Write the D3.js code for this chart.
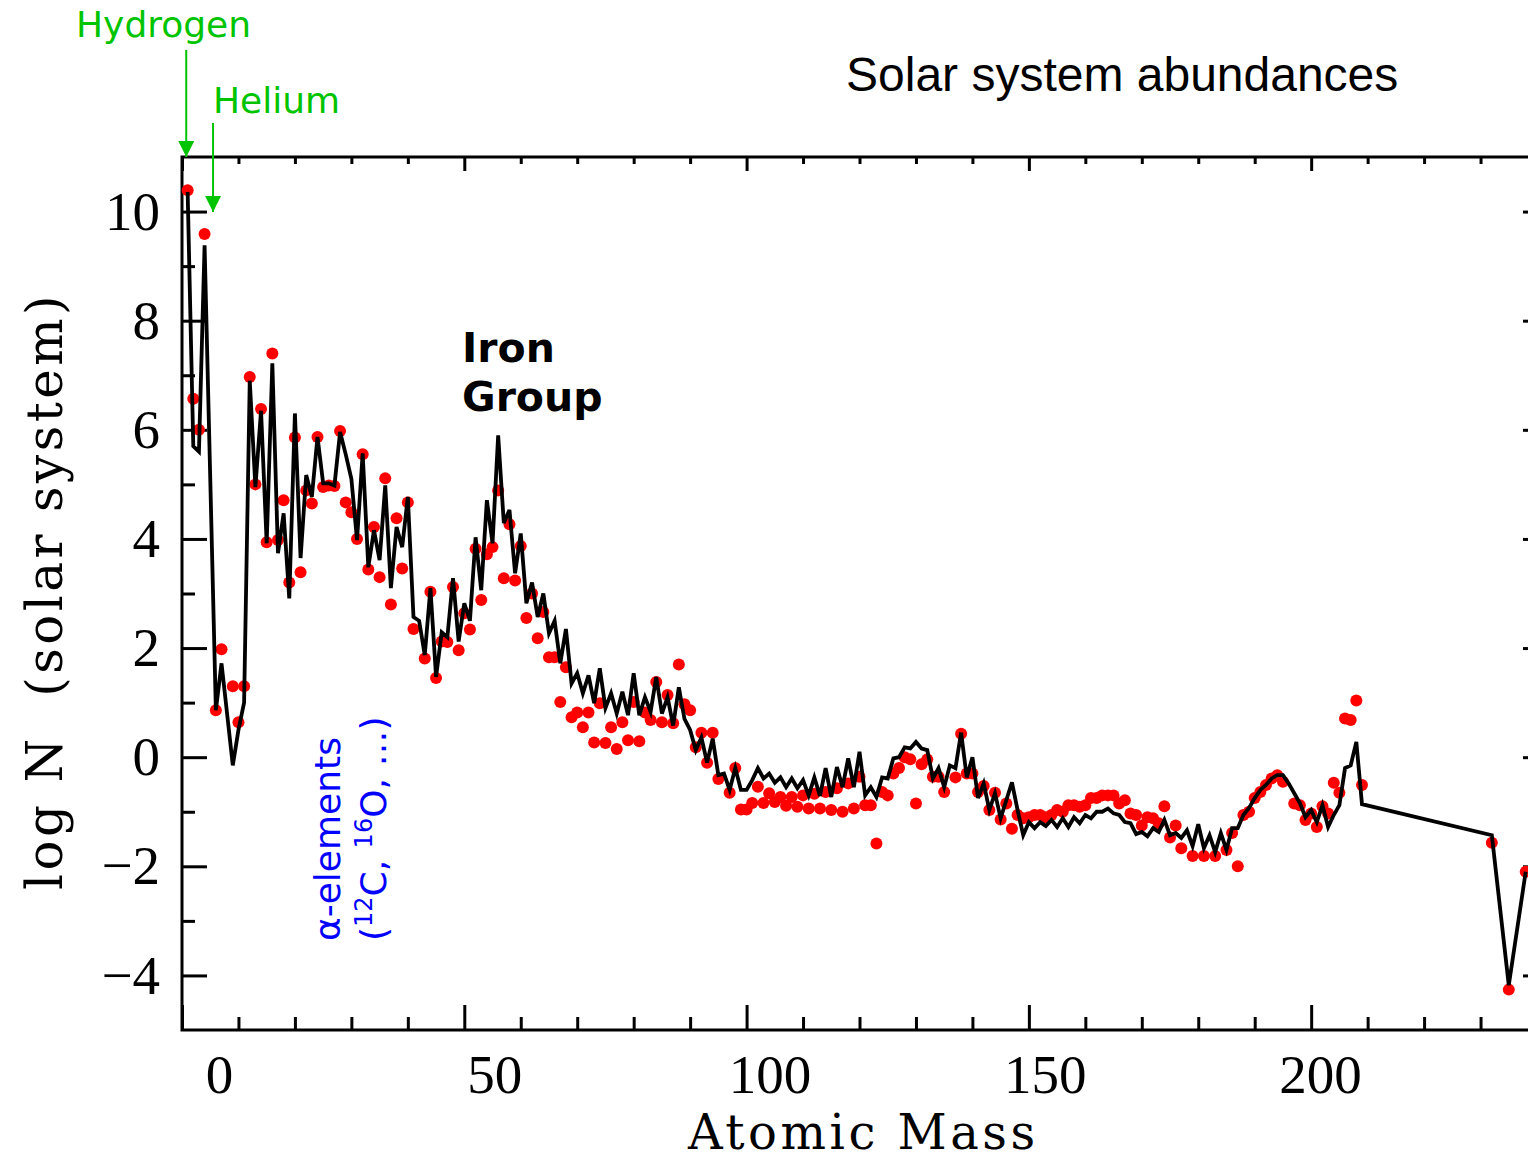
<!DOCTYPE html>
<html>
<head>
<meta charset="utf-8">
<script src="https://cdn.jsdelivr.net/npm/d3@7"></script>
<style>
  html, body { margin: 0; padding: 0; background: #fff; }
  svg { display: block; }
</style>
</head>
<body>
<svg id="chart" width="1528" height="1162"></svg>
<script>
// black curve: [mass number, log N]
var lineData = [
  [1,10.36],[2,5.7],[3,5.6],[4,9.38],[6,0.86],[7,1.72],[9,-0.15],[10,0.5],[11,1.0],
  [12,6.9],[13,4.95],[14,6.35],[15,3.92],[16,7.22],[17,3.74],[18,4.47],[19,2.91],[20,6.3],
  [21,3.65],[22,5.17],[23,4.77],[24,5.87],[25,5.02],[26,5.02],[27,4.98],[28,5.96],[29,5.55],
  [30,5.1],[31,3.98],[32,5.57],[33,3.48],[34,4.16],[35,3.61],[36,4.98],[37,3.1],[38,4.22],
  [39,3.85],[40,4.77],[41,2.57],[42,2.5],[43,1.87],[44,3.1],[45,1.47],[46,2.29],[47,2.2],
  [48,3.28],[49,2.12],[50,2.82],[51,2.5],[52,4.03],[53,3.06],[54,4.71],[55,3.92],[56,5.9],
  [57,4.29],[58,4.53],[59,3.37],[60,4.1],[61,2.82],[62,3.2],[63,2.57],[64,3.0],[65,2.27],
  [66,2.5],[67,1.72],[68,2.35],[69,1.35],[70,1.54],[71,1.17],[72,1.5],[73,0.99],[74,1.63],
  [75,0.9],[76,1.17],[77,0.8],[78,1.2],[79,0.77],[80,1.54],[81,0.77],[82,1.1],[83,0.83],
  [84,1.47],[85,0.8],[86,1.1],[87,0.58],[88,1.28],[89,0.7],[90,0.5],[91,0.13],[92,0.36],
  [93,-0.1],[94,0.34],[95,-0.33],[96,-0.3],[97,-0.6],[98,-0.2],[99,-0.6],[100,-0.6],
  [101,-0.42],[102,-0.2],[103,-0.39],[104,-0.3],[105,-0.47],[106,-0.37],[107,-0.55],
  [108,-0.39],[109,-0.57],[110,-0.42],[111,-0.7],[112,-0.37],[113,-0.71],[114,-0.2],
  [115,-0.73],[116,-0.18],[117,-0.55],[118,-0.02],[119,-0.55],[120,0.1],[121,-0.7],
  [122,-0.55],[123,-0.73],[124,-0.37],[125,-0.39],[126,-0.02],[127,0.0],[128,0.18],
  [129,0.16],[130,0.28],[131,0.16],[132,0.13],[133,-0.39],[134,-0.2],[135,-0.55],
  [136,-0.15],[137,-0.2],[138,0.45],[139,-0.37],[140,0.0],[141,-0.75],[142,-0.48],
  [143,-0.97],[144,-0.66],[145,-1.12],[146,-0.79],[147,-0.46],[148,-0.97],[149,-1.43],
  [150,-1.19],[151,-1.3],[152,-1.19],[153,-1.26],[154,-1.15],[155,-1.28],[156,-1.12],
  [157,-1.28],[158,-1.1],[159,-1.21],[160,-1.06],[161,-1.12],[162,-1.0],[163,-1.0],
  [164,-0.94],[165,-1.03],[166,-1.06],[167,-1.19],[168,-1.21],[169,-1.41],[170,-1.37],
  [171,-1.45],[172,-1.3],[173,-1.37],[174,-1.15],[175,-1.43],[176,-1.39],[177,-1.48],
  [178,-1.34],[179,-1.63],[180,-1.23],[181,-1.67],[182,-1.43],[183,-1.74],[184,-1.39],
  [185,-1.7],[186,-1.3],[187,-1.3],[188,-1.06],[189,-0.93],[190,-0.75],[191,-0.6],
  [192,-0.51],[193,-0.39],[194,-0.33],[195,-0.33],[196,-0.48],[197,-0.66],[198,-0.84],
  [199,-1.1],[200,-0.97],[201,-1.19],[202,-0.88],[203,-1.28],[204,-1.06],[205,-0.88],
  [206,-0.2],[207,-0.15],[208,0.28],[209,-0.86],[232,-1.43],[235,-4.18],[238,-2.1]
];

// red points: [mass number, log N]
var pointData = [
  [1,10.39],[2,6.57],[3,6.0],[4,9.59],[6,0.86],[7,1.98],[9,1.3],[10,0.64],[11,1.3],
  [12,6.97],[13,5.0],[14,6.38],[15,3.94],[16,7.4],[17,3.98],[18,4.71],[19,3.2],[20,5.86],
  [21,3.39],[22,4.89],[23,4.65],[24,5.87],[25,4.95],[26,4.98],[27,4.97],[28,5.98],
  [29,4.67],[30,4.49],[31,4.0],[32,5.55],[33,3.44],[34,4.22],[35,3.3],[36,5.11],[37,2.8],
  [38,4.38],[39,3.46],[40,4.67],[41,2.35],[43,1.81],[44,3.03],[45,1.45],[46,2.12],
  [47,2.11],[48,3.12],[49,1.96],[50,2.64],[51,2.34],[52,3.82],[53,2.88],[54,3.72],
  [55,3.85],[56,4.89],[57,3.28],[58,4.27],[59,3.24],[60,3.87],[61,2.55],[62,3.0],
  [63,2.18],[64,2.66],[65,1.83],[66,1.83],[67,1.01],[68,1.65],[69,0.73],[70,0.82],
  [71,0.55],[72,0.82],[73,0.27],[74,0.99],[75,0.26],[76,0.55],[77,0.15],[78,0.64],
  [79,0.31],[80,1.01],[81,0.29],[82,0.82],[83,0.68],[84,1.38],[85,0.64],[86,1.14],
  [87,0.62],[88,1.7],[89,0.97],[90,0.86],[91,0.18],[92,0.45],[93,-0.1],[94,0.45],
  [95,-0.4],[97,-0.65],[98,-0.2],[99,-0.96],[100,-0.96],[101,-0.84],[102,-0.54],
  [103,-0.84],[104,-0.66],[105,-0.82],[106,-0.73],[107,-0.89],[108,-0.73],[109,-0.91],
  [110,-0.7],[111,-0.94],[112,-0.67],[113,-0.94],[114,-0.64],[115,-0.97],[116,-0.57],
  [117,-1.0],[118,-0.48],[119,-0.94],[120,-0.36],[121,-0.88],[122,-0.88],[123,-1.58],
  [124,-0.64],[125,-0.7],[126,-0.3],[127,-0.2],[128,0.0],[129,-0.04],[130,-0.85],
  [131,-0.13],[132,-0.04],[133,-0.36],[134,-0.36],[135,-0.64],[137,-0.37],[138,0.43],
  [139,-0.3],[140,-0.3],[141,-0.64],[142,-0.53],[143,-0.97],[144,-0.65],[145,-1.14],
  [146,-0.85],[147,-1.31],[148,-1.06],[149,-1.12],[150,-1.1],[151,-1.06],[152,-1.06],
  [153,-1.1],[154,-1.06],[155,-0.97],[156,-1.0],[157,-0.88],[158,-0.88],[159,-0.91],
  [160,-0.88],[161,-0.75],[162,-0.75],[163,-0.7],[164,-0.7],[165,-0.7],[166,-0.85],
  [167,-0.79],[168,-1.03],[169,-1.06],[170,-1.25],[171,-1.1],[172,-1.12],[173,-1.21],
  [174,-0.9],[175,-1.47],[176,-1.25],[177,-1.67],[179,-1.81],[181,-1.81],[183,-1.81],
  [185,-1.7],[186,-1.39],[187,-2.0],[188,-1.06],[189,-1.0],[190,-0.75],[191,-0.64],
  [192,-0.51],[193,-0.39],[194,-0.33],[195,-0.45],[197,-0.85],[198,-0.88],[199,-1.15],
  [200,-1.03],[201,-1.28],[202,-0.9],[203,-1.03],[204,-0.47],[205,-0.65],[206,0.71],
  [207,0.68],[208,1.04],[209,-0.51],[232,-1.57],[235,-4.26],[238,-2.1]
];

var xMajorTicks = [0, 50, 100, 150, 200];
var xMinorTicks = [10, 20, 30, 40, 60, 70, 80, 90, 110, 120, 130, 140, 160, 170, 180, 190, 210, 220, 230];
var yMajorTicks = [-4, -2, 0, 2, 4, 6, 8, 10];
var yMinorTicks = [-3, -1, 1, 3, 5, 7, 9];

var svg = d3.select("#chart");
svg.append("rect").attr("width", 1528).attr("height", 1162).attr("fill", "#fff");

var x = d3.scaleLinear().domain([0, 240]).range([182, 1537]);
var y = d3.scaleLinear().domain([-5, 11]).range([1030, 157]);
// tick labels in the source sit a bit right of their tick marks
var xLab = d3.scaleLinear().domain([0, 200]).range([219, 1320]);

function tickAxis(axis, tx, ty, vals, size) {
  var g = svg.append("g")
    .attr("transform", "translate(" + tx + "," + ty + ")")
    .call(axis.tickValues(vals).tickSize(size).tickFormat(""));
  g.select(".domain").remove();
  g.selectAll("line").attr("stroke", "#000").attr("stroke-width", 3);
  return g;
}

// left / bottom (long inward ticks), top / right (short)
tickAxis(d3.axisRight(y), 182, 0, yMajorTicks, 25);
tickAxis(d3.axisRight(y), 182, 0, yMinorTicks, 13);
tickAxis(d3.axisTop(x), 0, 1030, xMajorTicks, 25);
tickAxis(d3.axisTop(x), 0, 1030, xMinorTicks, 13);
tickAxis(d3.axisBottom(x), 0, 157, xMajorTicks, 14);
tickAxis(d3.axisBottom(x), 0, 157, xMinorTicks, 7);
tickAxis(d3.axisLeft(y), 1537, 0, yMajorTicks, 14);
tickAxis(d3.axisLeft(y), 1537, 0, yMinorTicks, 7);

// frame
svg.append("rect")
  .attr("x", x(0)).attr("y", y(11))
  .attr("width", x(240) - x(0)).attr("height", y(-5) - y(11))
  .attr("fill", "none").attr("stroke", "#000").attr("stroke-width", 3);

// tick labels
var yl = svg.append("g").attr("transform", "translate(182,0)")
  .call(d3.axisLeft(y).tickValues(yMajorTicks).tickSize(0).tickPadding(22)
    .tickFormat(function(d) { return d < 0 ? "\u2212" + (-d) : d; }));
yl.select(".domain").remove();
yl.selectAll("text").attr("font-family", "Liberation Serif").attr("font-size", 55).attr("fill", "#000");

var xl = svg.append("g").attr("transform", "translate(0,1030)")
  .call(d3.axisBottom(xLab).tickValues(xMajorTicks).tickSize(0).tickPadding(24));
xl.select(".domain").remove();
xl.selectAll("text").attr("font-family", "Liberation Serif").attr("font-size", 55).attr("fill", "#000");

// axis titles
svg.append("text")
  .attr("x", 688).attr("y", 1149)
  .attr("font-family", "DejaVu Serif").attr("font-size", 48)
  .attr("letter-spacing", 3.5)
  .text("Atomic Mass");

svg.append("text")
  .attr("transform", "translate(62,890) rotate(-90)")
  .attr("font-family", "DejaVu Serif").attr("font-size", 50)
  .attr("letter-spacing", 3.4)
  .style("white-space", "pre")
  .text("log N  (solar system)");

// data
svg.append("g").selectAll("circle")
  .data(pointData)
  .join("circle")
  .attr("cx", function(d) { return x(d[0]); })
  .attr("cy", function(d) { return y(d[1]); })
  .attr("r", 6)
  .attr("fill", "#ff0000");

var line = d3.line()
  .x(function(d) { return x(d[0]); })
  .y(function(d) { return y(d[1]); });

svg.append("path")
  .datum(lineData)
  .attr("d", line)
  .attr("fill", "none")
  .attr("stroke", "#000")
  .attr("stroke-width", 3.8);

// annotations
svg.append("text")
  .attr("x", 846).attr("y", 91)
  .attr("font-family", "Liberation Sans").attr("font-size", 48)
  .text("Solar system abundances");

var iron = svg.append("text")
  .attr("font-family", "DejaVu Sans").attr("font-weight", "bold").attr("font-size", 41);
iron.append("tspan").attr("x", 462).attr("y", 362).text("Iron");
iron.append("tspan").attr("x", 462).attr("y", 411).text("Group");

var green = "#00c400";
svg.append("defs").append("marker")
  .attr("id", "arrow")
  .attr("viewBox", "0 0 16 16")
  .attr("refX", 16).attr("refY", 8)
  .attr("markerWidth", 16).attr("markerHeight", 16)
  .attr("markerUnits", "userSpaceOnUse")
  .attr("orient", "auto")
  .append("path").attr("d", "M0,0 L16,8 L0,16 Z").attr("fill", green);

svg.append("text")
  .attr("x", 76).attr("y", 37)
  .attr("font-family", "DejaVu Sans").attr("font-size", 36).attr("fill", green)
  .text("Hydrogen");
svg.append("line")
  .attr("x1", x(0.75)).attr("y1", 50).attr("x2", x(0.75)).attr("y2", 157)
  .attr("stroke", green).attr("stroke-width", 2).attr("marker-end", "url(#arrow)");

svg.append("text")
  .attr("x", 213).attr("y", 113)
  .attr("font-family", "DejaVu Sans").attr("font-size", 36).attr("fill", green)
  .text("Helium");
svg.append("line")
  .attr("x1", x(5.5)).attr("y1", 123).attr("x2", x(5.5)).attr("y2", 212)
  .attr("stroke", green).attr("stroke-width", 2).attr("marker-end", "url(#arrow)");

var alpha = svg.append("text")
  .attr("transform", "translate(340,941) rotate(-90)")
  .attr("font-family", "DejaVu Sans").attr("font-size", 36).attr("fill", "#0000ff");
alpha.append("tspan").attr("x", 0).attr("y", 0).text("\u03b1-elements");

var iso = svg.append("text")
  .attr("transform", "translate(386,941) rotate(-90)")
  .attr("font-family", "DejaVu Sans").attr("font-size", 36).attr("fill", "#0000ff")
  .style("white-space", "pre");
iso.append("tspan").text("(");
iso.append("tspan").attr("font-size", 24).attr("dy", -14).text("12");
iso.append("tspan").attr("dy", 14).text("C, ");
iso.append("tspan").attr("font-size", 24).attr("dy", -14).text("16");
iso.append("tspan").attr("dy", 14).text("O, \u2026)");
</script>
</body>
</html>
